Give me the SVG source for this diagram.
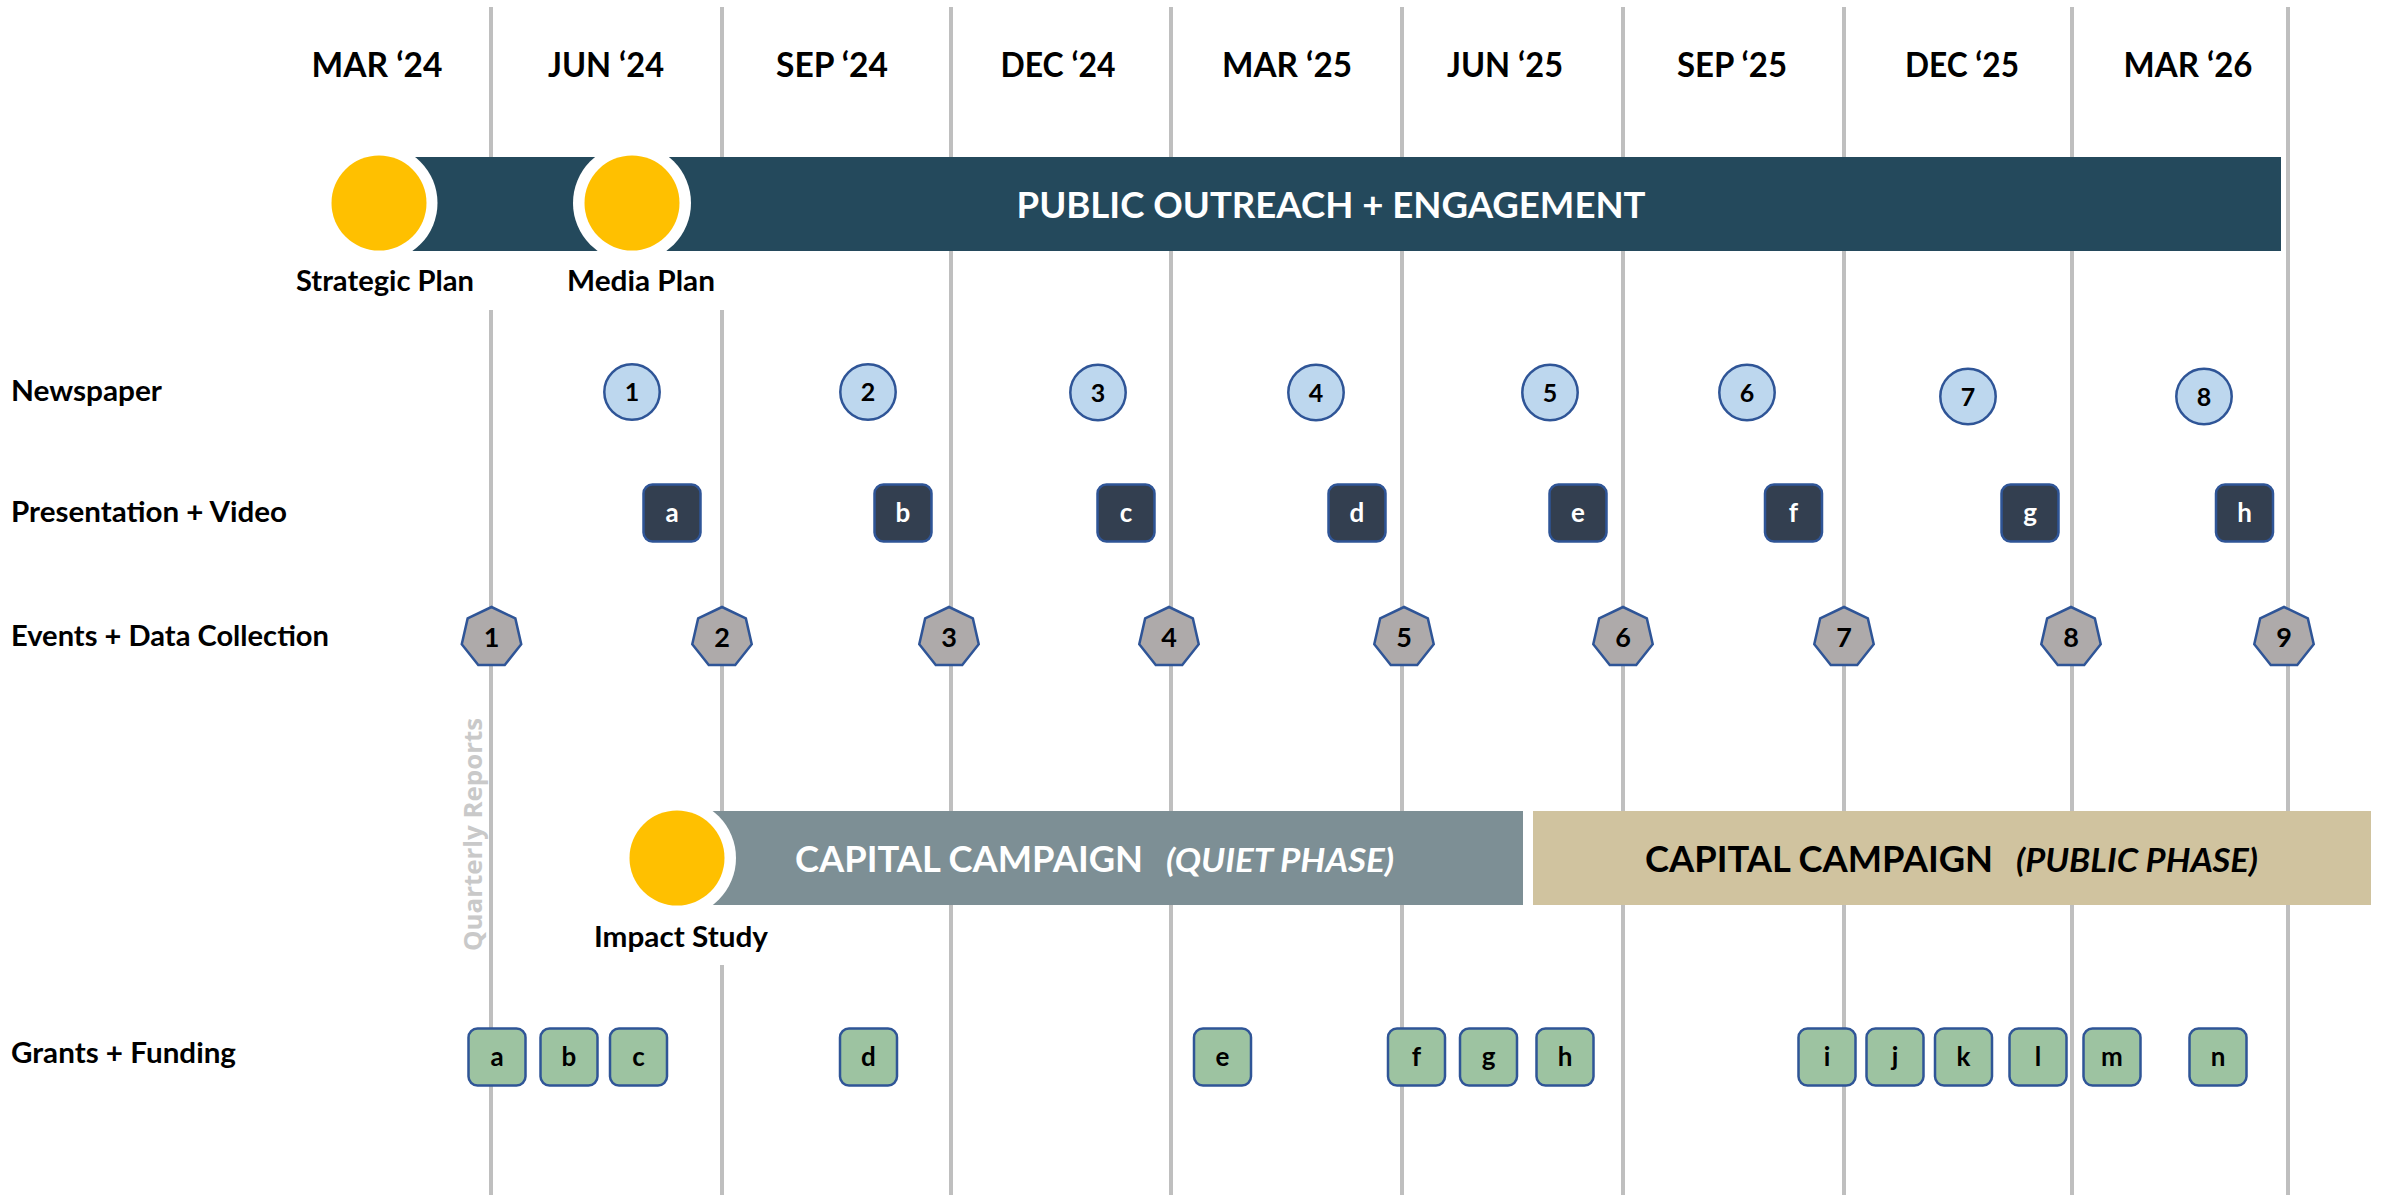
<svg xmlns="http://www.w3.org/2000/svg" xmlns:xlink="http://www.w3.org/1999/xlink" width="2381" height="1195" viewBox="0 0 2381 1195">
<style>
.t{font-family:Lato,"Liberation Sans",sans-serif;font-weight:700}
.month{font-size:35px;fill:#000;text-anchor:middle}
.row{font-size:29px;fill:#000}
.lbl{font-size:29px;fill:#000;text-anchor:middle}
.grid{stroke:#BFBFBF;stroke-width:4;fill:none}
.news{fill:#BDD7EE;stroke:#2F5597;stroke-width:2.5}
.pres{fill:#333F50;stroke:#2F5597;stroke-width:2.5}
.evt{fill:#AEAAAA;stroke:#2F5597;stroke-width:2.5}
.grant{fill:#9DC3A1;stroke:#2F5597;stroke-width:2.5}
.ntxt{font-size:25px;fill:#000;text-anchor:middle}
.etxt{font-size:27px;fill:#000;text-anchor:middle}
.ptxt{font-size:26px;fill:#fff;text-anchor:middle}
.gtxt{font-size:26px;fill:#000;text-anchor:middle}
.ring{fill:#fff}
.sun{fill:#FFC000}
</style>
<defs>
<polygon id="hept" points="0,-30.5 23.85,-19.02 29.73,6.79 13.23,27.48 -13.23,27.48 -29.73,6.79 -23.85,-19.02"/>
<rect id="box" x="-28.5" y="-28.5" width="57" height="57" rx="9" ry="9"/>
</defs>
<rect width="2381" height="1195" fill="#fff"/>

<g id="gridlines" class="grid">
<path d="M491,7V251M491,310V1195"/>
<path d="M722,7V251M722,310V905M722,965V1195"/>
<path d="M951,7V1195"/>
<path d="M1171,7V1195"/>
<path d="M1402,7V1195"/>
<path d="M1623,7V1195"/>
<path d="M1844,7V1195"/>
<path d="M2072,7V1195"/>
<path d="M2288,7V1195"/>
</g>

<g id="months" class="t month">
<text x="377" y="77" textLength="131" lengthAdjust="spacingAndGlyphs">MAR ‘24</text>
<text x="606" y="77" textLength="116" lengthAdjust="spacingAndGlyphs">JUN ‘24</text>
<text x="832" y="77" textLength="112" lengthAdjust="spacingAndGlyphs">SEP ‘24</text>
<text x="1058" y="77" textLength="115" lengthAdjust="spacingAndGlyphs">DEC ‘24</text>
<text x="1287" y="77" textLength="130" lengthAdjust="spacingAndGlyphs">MAR ‘25</text>
<text x="1505" y="77" textLength="116" lengthAdjust="spacingAndGlyphs">JUN ‘25</text>
<text x="1732" y="77" textLength="110" lengthAdjust="spacingAndGlyphs">SEP ‘25</text>
<text x="1962" y="77" textLength="114" lengthAdjust="spacingAndGlyphs">DEC ‘25</text>
<text x="2188" y="77" textLength="129" lengthAdjust="spacingAndGlyphs">MAR ‘26</text>
</g>

<g id="public-outreach">
<rect x="379" y="157" width="1902" height="94" fill="#24495C"/>
<text class="t" x="1331" y="218" font-size="37" fill="#fff" text-anchor="middle" textLength="629" lengthAdjust="spacingAndGlyphs">PUBLIC OUTREACH + ENGAGEMENT</text>
</g>

<g id="strategic-plan">
<circle class="ring" cx="379" cy="203" r="58.5"/>
<circle class="sun" cx="379" cy="203" r="47.5"/>
<text class="t lbl" x="385" y="291" textLength="178" lengthAdjust="spacingAndGlyphs">Strategic Plan</text>
</g>

<g id="media-plan">
<circle class="ring" cx="632" cy="203" r="59"/>
<circle class="sun" cx="632" cy="203" r="47.5"/>
<text class="t lbl" x="641" y="291" textLength="148" lengthAdjust="spacingAndGlyphs">Media Plan</text>
</g>

<g id="row-labels" class="t row">
<text x="11" y="401" textLength="151" lengthAdjust="spacingAndGlyphs">Newspaper</text>
<text x="11" y="522" textLength="276" lengthAdjust="spacingAndGlyphs">Presentation + Video</text>
<text x="11" y="646" textLength="318" lengthAdjust="spacingAndGlyphs">Events + Data Collection</text>
<text x="11" y="1063" textLength="225" lengthAdjust="spacingAndGlyphs">Grants + Funding</text>
</g>

<g id="newspaper">
<g id="news-1"><circle class="news" cx="632" cy="392" r="27.7"/><text class="t ntxt" x="632" y="401">1</text></g>
<g id="news-2"><circle class="news" cx="868" cy="392" r="27.7"/><text class="t ntxt" x="868" y="401">2</text></g>
<g id="news-3"><circle class="news" cx="1098" cy="392.5" r="27.7"/><text class="t ntxt" x="1098" y="401.5">3</text></g>
<g id="news-4"><circle class="news" cx="1316" cy="392.5" r="27.7"/><text class="t ntxt" x="1316" y="401.5">4</text></g>
<g id="news-5"><circle class="news" cx="1550" cy="392.5" r="27.7"/><text class="t ntxt" x="1550" y="401.5">5</text></g>
<g id="news-6"><circle class="news" cx="1747" cy="392.5" r="27.7"/><text class="t ntxt" x="1747" y="401.5">6</text></g>
<g id="news-7"><circle class="news" cx="1968" cy="396.5" r="27.7"/><text class="t ntxt" x="1968" y="405.5">7</text></g>
<g id="news-8"><circle class="news" cx="2204" cy="396.5" r="27.7"/><text class="t ntxt" x="2204" y="405.5">8</text></g>
</g>

<g id="presentation">
<g id="pres-a"><use href="#box" class="pres" x="672" y="513"/><text class="t ptxt" x="672" y="522">a</text></g>
<g id="pres-b"><use href="#box" class="pres" x="903" y="513"/><text class="t ptxt" x="903" y="522">b</text></g>
<g id="pres-c"><use href="#box" class="pres" x="1126" y="513"/><text class="t ptxt" x="1126" y="522">c</text></g>
<g id="pres-d"><use href="#box" class="pres" x="1357" y="513"/><text class="t ptxt" x="1357" y="522">d</text></g>
<g id="pres-e"><use href="#box" class="pres" x="1578" y="513"/><text class="t ptxt" x="1578" y="522">e</text></g>
<g id="pres-f"><use href="#box" class="pres" x="1793.5" y="513"/><text class="t ptxt" x="1793.5" y="522">f</text></g>
<g id="pres-g"><use href="#box" class="pres" x="2030" y="513"/><text class="t ptxt" x="2030" y="522">g</text></g>
<g id="pres-h"><use href="#box" class="pres" x="2244.5" y="513"/><text class="t ptxt" x="2244.5" y="522">h</text></g>
</g>

<g id="events">
<g id="evt-1"><use href="#hept" class="evt" x="491.5" y="637.5"/><text class="t etxt" x="491.5" y="647">1</text></g>
<g id="evt-2"><use href="#hept" class="evt" x="722" y="637.5"/><text class="t etxt" x="722" y="647">2</text></g>
<g id="evt-3"><use href="#hept" class="evt" x="949" y="637.5"/><text class="t etxt" x="949" y="647">3</text></g>
<g id="evt-4"><use href="#hept" class="evt" x="1169" y="637.5"/><text class="t etxt" x="1169" y="647">4</text></g>
<g id="evt-5"><use href="#hept" class="evt" x="1404" y="637.5"/><text class="t etxt" x="1404" y="647">5</text></g>
<g id="evt-6"><use href="#hept" class="evt" x="1623" y="637.5"/><text class="t etxt" x="1623" y="647">6</text></g>
<g id="evt-7"><use href="#hept" class="evt" x="1844" y="637.5"/><text class="t etxt" x="1844" y="647">7</text></g>
<g id="evt-8"><use href="#hept" class="evt" x="2071" y="637.5"/><text class="t etxt" x="2071" y="647">8</text></g>
<g id="evt-9"><use href="#hept" class="evt" x="2284" y="637.5"/><text class="t etxt" x="2284" y="647">9</text></g>
</g>

<g id="quarterly-reports">
<text transform="translate(482,834.5) rotate(-90)" font-family="'Open Sans','DejaVu Sans',sans-serif" font-weight="700" font-size="25" fill="#C9C9C9" text-anchor="middle" textLength="233" lengthAdjust="spacingAndGlyphs">Quarterly Reports</text>
</g>

<g id="capital-quiet">
<rect x="677" y="811" width="846" height="94" fill="#7D8F95"/>
<text class="t" x="795" y="872" font-size="37" fill="#fff" textLength="348" lengthAdjust="spacingAndGlyphs">CAPITAL CAMPAIGN</text>
<text class="t" x="1166" y="872" font-size="32" font-style="italic" fill="#fff" textLength="228" lengthAdjust="spacingAndGlyphs">(QUIET PHASE)</text>
</g>

<g id="capital-public">
<rect x="1533" y="811" width="838" height="94" fill="#D0C39F"/>
<text class="t" x="1645" y="872" font-size="37" fill="#000" textLength="348" lengthAdjust="spacingAndGlyphs">CAPITAL CAMPAIGN</text>
<text class="t" x="2016" y="872" font-size="32" font-style="italic" fill="#000" textLength="242" lengthAdjust="spacingAndGlyphs">(PUBLIC PHASE)</text>
</g>

<g id="impact-study">
<circle class="ring" cx="677" cy="858" r="59"/>
<circle class="sun" cx="677" cy="858" r="47.5"/>
<text class="t lbl" x="681" y="947" textLength="174" lengthAdjust="spacingAndGlyphs">Impact Study</text>
</g>

<g id="grants">
<g id="grant-a"><use href="#box" class="grant" x="497" y="1057"/><text class="t gtxt" x="497" y="1066">a</text></g>
<g id="grant-b"><use href="#box" class="grant" x="569" y="1057"/><text class="t gtxt" x="569" y="1066">b</text></g>
<g id="grant-c"><use href="#box" class="grant" x="638.5" y="1057"/><text class="t gtxt" x="638.5" y="1066">c</text></g>
<g id="grant-d"><use href="#box" class="grant" x="868.5" y="1057"/><text class="t gtxt" x="868.5" y="1066">d</text></g>
<g id="grant-e"><use href="#box" class="grant" x="1222.5" y="1057"/><text class="t gtxt" x="1222.5" y="1066">e</text></g>
<g id="grant-f"><use href="#box" class="grant" x="1416.5" y="1057"/><text class="t gtxt" x="1416.5" y="1066">f</text></g>
<g id="grant-g"><use href="#box" class="grant" x="1488.5" y="1057"/><text class="t gtxt" x="1488.5" y="1066">g</text></g>
<g id="grant-h"><use href="#box" class="grant" x="1565" y="1057"/><text class="t gtxt" x="1565" y="1066">h</text></g>
<g id="grant-i"><use href="#box" class="grant" x="1827" y="1057"/><text class="t gtxt" x="1827" y="1066">i</text></g>
<g id="grant-j"><use href="#box" class="grant" x="1895" y="1057"/><text class="t gtxt" x="1895" y="1066">j</text></g>
<g id="grant-k"><use href="#box" class="grant" x="1963.5" y="1057"/><text class="t gtxt" x="1963.5" y="1066">k</text></g>
<g id="grant-l"><use href="#box" class="grant" x="2038" y="1057"/><text class="t gtxt" x="2038" y="1066">l</text></g>
<g id="grant-m"><use href="#box" class="grant" x="2112" y="1057"/><text class="t gtxt" x="2112" y="1066">m</text></g>
<g id="grant-n"><use href="#box" class="grant" x="2218" y="1057"/><text class="t gtxt" x="2218" y="1066">n</text></g>
</g>
</svg>
